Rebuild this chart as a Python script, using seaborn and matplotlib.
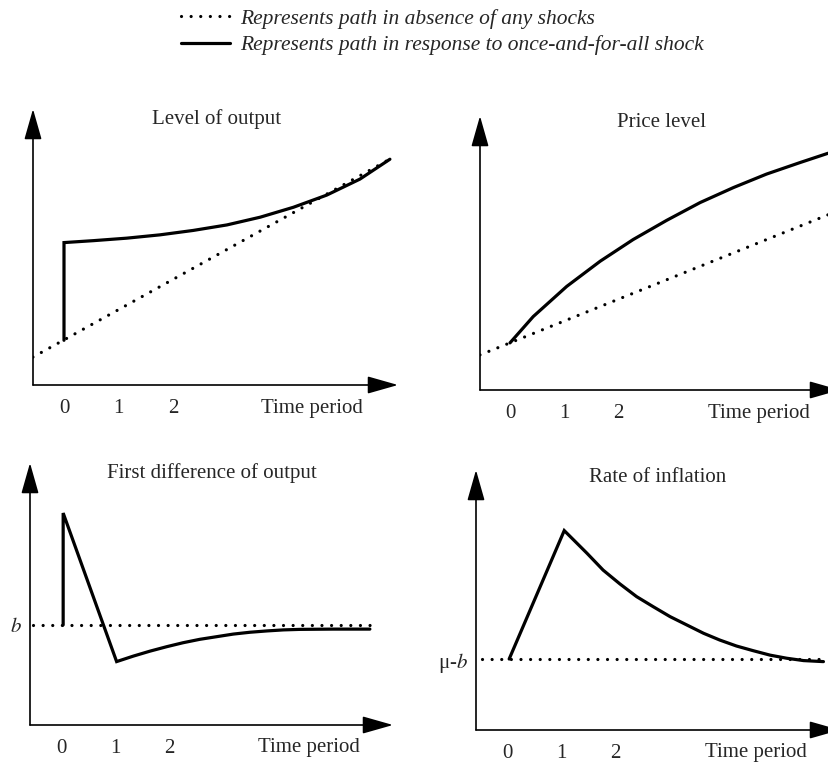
import numpy as np
import pandas as pd
import matplotlib
matplotlib.use("Agg")
import matplotlib.pyplot as plt
from matplotlib.lines import Line2D
import seaborn as sns

# ---- values (time period, level on a 0-10 scale) ----
# Level of output
out_base_t = [-0.57, 6.02]
out_base_y = [1.01, 8.23]
out_shock_t = [0.0, 0.0, 0.54, 1.15, 1.76, 2.37, 2.99, 3.60, 4.21, 4.82, 5.43, 5.98]
out_shock_y = [1.62, 5.16, 5.23, 5.32, 5.44, 5.60, 5.80, 6.08, 6.44, 6.88, 7.46, 8.18]

# Price level
price_base_t = [-0.556, 5.91]
price_base_y = [1.28, 6.41]
price_shock_t = [0.0, 0.43, 1.05, 1.67, 2.28, 2.90, 3.52, 4.14, 4.75, 5.37, 5.89]
price_shock_y = [1.72, 2.68, 3.78, 4.70, 5.49, 6.19, 6.84, 7.39, 7.88, 8.30, 8.64]

# First difference of output
b_level = 3.82
diff_base_t = [-0.52, 5.87]
diff_shock_t = [0.04, 0.04, 1.03, 1.34, 1.65, 1.96, 2.26, 2.57, 2.88, 3.19, 3.50,
                3.81, 4.12, 4.43, 5.04, 5.72]
diff_shock_y = [3.82, 8.09, 2.42, 2.63, 2.82, 2.99, 3.14, 3.27, 3.37, 3.47, 3.54,
                3.59, 3.63, 3.65, 3.66, 3.66]

# Rate of inflation
mub_level = 2.73
infl_base_t = [-0.46, 5.85]
infl_shock_t = [0.04, 1.06, 1.48, 1.78, 2.09, 2.40, 2.71, 3.02, 3.33, 3.64, 3.94,
                4.25, 4.56, 4.87, 5.18, 5.49, 5.86]
infl_shock_y = [2.73, 7.67, 6.80, 6.15, 5.62, 5.13, 4.74, 4.36, 4.04, 3.72, 3.46,
                3.23, 3.05, 2.88, 2.76, 2.67, 2.63]

tick_vals = [0, 1, 2]
titles = ["Level of output", "Price level", "First difference of output", "Rate of inflation"]
legend_labels = ["Represents path in absence of any shocks",
                 "Represents path in response to once-and-for-all shock"]

sns.set_style("white")
plt.rcParams["font.family"] = ["Liberation Serif", "DejaVu Serif"]
plt.rcParams["mathtext.fontset"] = "stix"

W, H = 829, 762
fig = plt.figure(figsize=(W / 100, H / 100), dpi=100)

DOT = dict(linestyle=(0, (0.01, 3.0)), dash_capstyle="round", linewidth=2.3, color="black")
SOLID = dict(linewidth=2.3, color="black", solid_joinstyle="miter")


def make_axes(left, bottom, right, top, t0, step):
    # pixel box -> figure fraction, x limits in time units
    ax = fig.add_axes([left / W, (H - bottom) / H, (right - left) / W, (bottom - top) / H])
    ax.set_xlim((left - t0) / step, (right - t0) / step)
    ax.set_ylim(0, 10)
    for s in ax.spines.values():
        s.set_visible(False)
    ax.patch.set_alpha(0)
    arrow = dict(arrowstyle="-|>,head_length=0.95,head_width=0.27", mutation_scale=20,
                 color="black", lw=1.2, shrinkA=0, shrinkB=0)
    ax.annotate("", xy=(0, 1), xytext=(0, 0), xycoords="axes fraction", arrowprops=arrow)
    ax.annotate("", xy=(1, 0), xytext=(0, 0), xycoords="axes fraction", arrowprops=arrow)
    ax.set_xticks(tick_vals)
    ax.set_xticklabels([str(v) for v in tick_vals])
    ax.tick_params(axis="x", direction="in", length=5, width=1.2, pad=10, labelsize=15)
    ax.set_yticks([])
    return ax


def line(ax, t, y, style):
    df = pd.DataFrame({"t": t, "y": y})
    sns.lineplot(data=df, x="t", y="y", ax=ax, estimator=None, sort=False, **style)
    ax.set_xlabel("")
    ax.set_ylabel("")


# Level of output
ax1 = make_axes(33, 385, 398, 109, 64, 54.5)
line(ax1, out_base_t, out_base_y, DOT)
line(ax1, out_shock_t, out_shock_y, SOLID)

# Price level
ax2 = make_axes(480, 390, 840, 116, 510, 54)
line(ax2, price_base_t, price_base_y, DOT)
line(ax2, price_shock_t, price_shock_y, SOLID)

# First difference of output
ax3 = make_axes(30, 725, 393, 463, 61, 54)
line(ax3, diff_base_t, [b_level] * len(diff_base_t), DOT)
line(ax3, diff_shock_t, diff_shock_y, SOLID)
ax3.set_yticks([b_level])
ax3.set_yticklabels(["$b$"])

# Rate of inflation
ax4 = make_axes(476, 730, 840, 470, 507, 54)
line(ax4, infl_base_t, [mub_level] * len(infl_base_t), DOT)
line(ax4, infl_shock_t, infl_shock_y, SOLID)
ax4.set_yticks([mub_level])
ax4.set_yticklabels(["μ-$b$"])

for ax in (ax3, ax4):
    ax.tick_params(axis="y", length=0, pad=6, labelsize=15)

# titles and "Time period" labels
title_pos = [(0.504, 0.964), (0.503, 0.978), (0.501, 0.962), (0.5, 0.973)]
period_x = [(363 - 64) / 54.5, (810 - 510) / 54, (360 - 61) / 54, (807 - 507) / 54]
for ax, ttl, (tx, ty), px in zip((ax1, ax2, ax3, ax4), titles, title_pos, period_x):
    ax.text(tx, ty, ttl, transform=ax.transAxes, ha="center", va="center", fontsize=15)
    ax.text(px, -0.085, "Time period", transform=ax.get_xaxis_transform(),
            ha="right", va="center", fontsize=15)

# legend at the top
handles = [Line2D([], [], **DOT), Line2D([], [], **SOLID)]
fig.legend(handles, legend_labels, loc="upper left", bbox_to_anchor=(172 / W, 1),
           frameon=False, handlelength=2.3, handletextpad=0.45, labelspacing=0.3,
           borderaxespad=0, prop={"family": "Liberation Serif", "style": "italic", "size": 15.5})

fig.savefig("out.png", dpi=100)
